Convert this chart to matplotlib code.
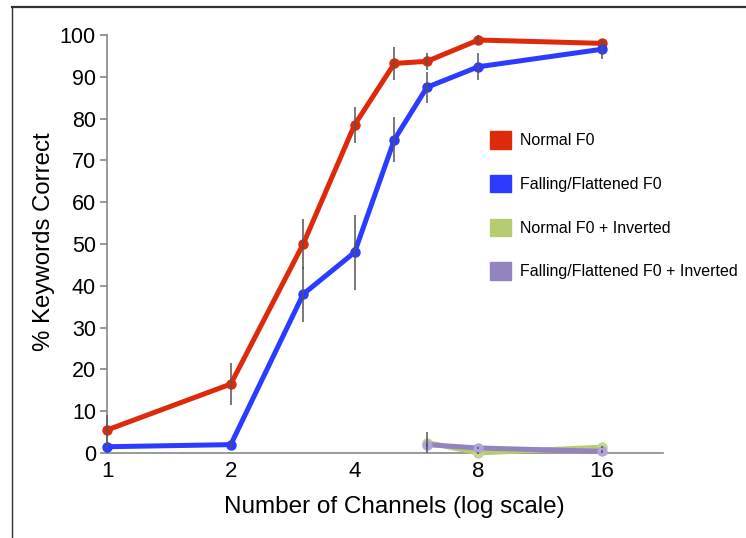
import matplotlib
matplotlib.use('Agg')
import matplotlib.pyplot as plt
from matplotlib.patches import Patch
from matplotlib.lines import Line2D

plt.rcParams['font.family'] = ['Liberation Sans', 'DejaVu Sans']

channels = [1, 2, 3, 4, 5, 6, 8, 16]
normal = [5.5, 16.5, 50, 78.5, 93.2, 93.7, 98.8, 98.0]
normal_err = [3.5, 5, 6, 4.3, 4, 2, 1.3, 1]
falling = [1.5, 2.0, 38, 48, 75, 87.5, 92.4, 96.6]
falling_err = [0.5, 0.8, 6.6, 9, 5.5, 3.7, 3.2, 2.4]

inv_channels = [6, 8, 16]
normal_inv = [2.5, 0.0, 1.4]
normal_inv_err = [2.5, 0.3, 0.3]
falling_inv = [2.0, 1.2, 0.4]
falling_inv_err = [0.5, 0.3, 0.3]

labels = ['Normal F0', 'Falling/Flattened F0', 'Normal F0 + Inverted',
          'Falling/Flattened F0 + Inverted']
colors = ['#dd2a0a', '#2b3bff', '#b5cc73', '#9383bf']
face = ['#dd2a0a', '#2b3bff', '#c2d688', '#b0a2dc']

fig = plt.figure(figsize=(7.46, 5.38), dpi=100)
ax = fig.add_axes([107/746, 1-453/538, 556/746, 418/538])

series = [(channels, normal, normal_err), (channels, falling, falling_err),
          (inv_channels, normal_inv, normal_inv_err), (inv_channels, falling_inv, falling_inv_err)]
for i, (xs, ys, es) in enumerate(series):
    ax.plot(xs, ys, color=colors[i], lw=3.6, marker='o', ms=6.5,
            mfc=face[i], mec=face[i], clip_on=False, zorder=3)
    ax.vlines(xs, [y - e for y, e in zip(ys, es)], [y + e for y, e in zip(ys, es)],
              color='#555555', lw=1.1, zorder=4, clip_on=False)

ax.set_xscale('log', base=2)
ax.set_xlim(1, 22.5)
ax.set_ylim(0, 100)
ax.set_xticks([1, 2, 4, 8, 16])
ax.set_xticklabels(['1', '2', '4', '8', '16'])
ax.minorticks_off()
ax.set_yticks(range(0, 101, 10))

for s in ['top', 'right']:
    ax.spines[s].set_visible(False)
for s in ['left', 'bottom']:
    ax.spines[s].set_color('#888888')
    ax.spines[s].set_linewidth(1.2)
ax.tick_params(axis='y', length=5, width=1.2, color='#888888', labelsize=15.5, pad=3)
ax.tick_params(axis='x', length=0, labelsize=16, pad=6)

ax.set_xlabel('Number of Channels (log scale)', fontsize=17.5)
ax.xaxis.set_label_coords(0.516, -0.13)
ax.xaxis.label.set_verticalalignment('center')
ax.set_ylabel('% Keywords Correct', fontsize=17.3)
ax.yaxis.set_label_coords(-0.113, 0.505)
ax.yaxis.label.set_verticalalignment('center')

handles = [Patch(facecolor=c, edgecolor=c) for c in colors]
ax.legend(handles, labels, loc='upper left', bbox_to_anchor=(0.689, 0.770),
          frameon=False, fontsize=11.5, handlelength=1.3, handleheight=1.3,
          handletextpad=0.6, labelspacing=1.65, borderpad=0, borderaxespad=0)

# frame around the figure image
fig.add_artist(Line2D([12/746, 1], [1-7/538, 1-7/538], color='#333333', lw=1.6))
fig.add_artist(Line2D([12/746, 12/746], [0, 1-7/538], color='#333333', lw=1.0))

fig.savefig('out.png', dpi=100)
